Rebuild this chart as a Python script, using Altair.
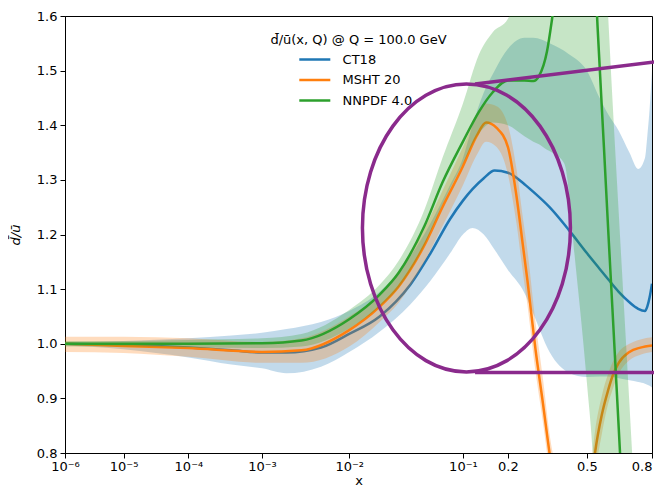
import math
import altair as alt
import pandas as pd

# ---------------- data ----------------
SERIES = ["CT18", "MSHT 20", "NNPDF 4.0"]
COLORS = ["#1f77b4", "#ff7f0e", "#2ca02c"]

CT18_x = [1e-6, 1e-5, 1e-4, 4e-4, 1e-3, 2e-3, 5e-3, 0.01, 0.02, 0.038, 0.056, 0.08, 0.1,
          0.117, 0.14, 0.165, 0.2, 0.25, 0.28, 0.34, 0.42, 0.5, 0.56, 0.6, 0.65, 0.7,
          0.74, 0.77, 0.78, 0.79, 0.8]
CT18_mid = [1.0, 0.998, 0.993, 0.988, 0.984, 0.984, 0.993, 1.018, 1.05, 1.108, 1.165, 1.228, 1.262,
            1.283, 1.303, 1.317, 1.313, 1.292, 1.278, 1.25, 1.208, 1.166, 1.137, 1.118, 1.095, 1.076,
            1.064, 1.06, 1.068, 1.085, 1.11]
CT18_lo = [0.997, 0.99, 0.975, 0.962, 0.955, 0.946, 0.958, 0.985, 1.022, 1.072, 1.115, 1.165, 1.2,
           1.212, 1.2, 1.172, 1.135, 1.093, 1.055, 0.985, 0.947, 0.939, 0.94, 0.94, 0.937, 0.933,
           0.93, 0.927, 0.925, 0.923, 0.92]
CT18_hi = [1.003, 1.005, 1.01, 1.015, 1.02, 1.027, 1.04, 1.06, 1.095, 1.16, 1.22, 1.29, 1.34,
           1.40, 1.46, 1.50, 1.54, 1.56, 1.56, 1.55, 1.53, 1.50, 1.45, 1.42, 1.39, 1.35,
           1.32, 1.34, 1.38, 1.43, 1.50]

MSHT_x = [1e-6, 1e-5, 1e-4, 1e-3, 3e-3, 0.01, 0.02, 0.03, 0.05, 0.07, 0.1, 0.125, 0.145,
          0.17, 0.2, 0.225, 0.245, 0.26, 0.2875, 0.315, 0.34, 0.38, 0.42, 0.46, 0.5, 0.52,
          0.538, 0.57, 0.6, 0.62, 0.65, 0.7, 0.75, 0.8]
MSHT_mid = [1.0, 0.996, 0.992, 0.985, 0.988, 1.025, 1.068, 1.105, 1.18, 1.25, 1.325, 1.38, 1.405,
            1.395, 1.36, 1.27, 1.18, 1.115, 0.99, 0.89, 0.80, 0.69, 0.60, 0.59, 0.67, 0.74,
            0.80, 0.87, 0.915, 0.94, 0.965, 0.985, 0.993, 0.997]
MSHT_lo = [0.985, 0.983, 0.976, 0.965, 0.965, 0.995, 1.04, 1.075, 1.15, 1.215, 1.29, 1.345, 1.37,
           1.36, 1.31, 1.22, 1.13, 1.07, 0.95, 0.855, 0.765, 0.64, 0.55, 0.54, 0.62, 0.70,
           0.76, 0.835, 0.89, 0.915, 0.945, 0.97, 0.98, 0.985]
MSHT_hi = [1.013, 1.013, 1.01, 1.003, 1.01, 1.05, 1.09, 1.13, 1.21, 1.28, 1.36, 1.415, 1.44,
           1.435, 1.40, 1.32, 1.23, 1.17, 1.04, 0.935, 0.835, 0.74, 0.65, 0.64, 0.72, 0.78,
           0.84, 0.905, 0.945, 0.965, 0.985, 1.0, 1.008, 1.012]

NNPDF_x = [1e-6, 1e-5, 1e-4, 1e-3, 3e-3, 0.01, 0.02, 0.03, 0.05, 0.07, 0.1, 0.13, 0.16,
           0.2, 0.25, 0.28, 0.3, 0.33, 0.35, 0.4, 0.45, 0.5, 0.53, 0.55, 0.58, 0.6,
           0.62, 0.65, 0.7, 0.75, 0.8]
NNPDF_mid = [1.0, 1.0, 1.0, 1.001, 1.006, 1.045, 1.09, 1.13, 1.215, 1.295, 1.37, 1.425, 1.46,
             1.482, 1.482, 1.481, 1.49, 1.535, 1.595, 1.78, 1.88, 1.9, 1.74, 1.58, 1.36, 1.21,
             1.066, 0.846, 0.47, 0.09, -0.3]
NNPDF_lo = [0.995, 0.995, 0.993, 0.992, 0.995, 1.028, 1.068, 1.103, 1.18, 1.255, 1.33, 1.385, 1.405,
            1.40, 1.38, 1.37, 1.365, 1.355, 1.35, 1.33, 1.14, 0.93, 0.78, 0.6, 0.4, 0.2,
            0.05, -0.1, -0.3, -0.5, -0.6]
NNPDF_hi = [1.005, 1.005, 1.007, 1.01, 1.018, 1.062, 1.108, 1.152, 1.245, 1.34, 1.44, 1.53, 1.57,
            1.595, 1.7, 1.8, 1.9, 2.0, 2.1, 2.2, 2.2, 2.2, 2.1, 1.97, 1.74, 1.6,
            1.45, 1.24, 0.89, 0.52, 0.13]

# x tick positions / labels
XTICK_X = [1e-6, 1e-5, 1e-4, 1e-3, 1e-2, 1e-1, 0.2, 0.5, 0.8]
XTICK_LABELS = ["10⁻⁶", "10⁻⁵", "10⁻⁴", "10⁻³", "10⁻²", "10⁻¹", "0.2", "0.5", "0.8"]
YTICKS = [0.8, 0.9, 1.0, 1.1, 1.2, 1.3, 1.4, 1.5, 1.6]

# annotation (purple ellipse + two lines), in data coordinates
ELLIPSE_X = [0.106]
ELLIPSE_Y = [1.212]
LINE_X = [0.122, 0.122]
LINE_X2 = [0.84, 0.84]
LINE_Y = [1.4755, 0.9474]
LINE_Y2 = [1.5176, 0.9474]

PURPLE = "#8a2a8c"
FONT = "DejaVu Sans"


def tr(v):
    return -math.sqrt(-math.log10(v))


rows = []
for name, xs, mid, lo, hi in [("CT18", CT18_x, CT18_mid, CT18_lo, CT18_hi),
                              ("MSHT 20", MSHT_x, MSHT_mid, MSHT_lo, MSHT_hi),
                              ("NNPDF 4.0", NNPDF_x, NNPDF_mid, NNPDF_lo, NNPDF_hi)]:
    for a, b, c, d in zip(xs, mid, lo, hi):
        rows.append({"pdf": name, "x": a, "mid": b, "lo": c, "hi": d})
df = pd.DataFrame(rows)

ell_df = pd.DataFrame({"x": ELLIPSE_X, "y": ELLIPSE_Y})
line_df = pd.DataFrame({"x": LINE_X, "x2": LINE_X2, "y": LINE_Y, "y2": LINE_Y2})

T_EXPR = "-sqrt(-log(datum.x)/LN10)"
T2_EXPR = "-sqrt(-log(datum.x2)/LN10)"

xdom = [tr(1e-6), tr(0.8)]
xticks_t = [tr(v) for v in XTICK_X]
label_expr = "".join(
    f"abs(datum.value - ({v:.6f})) < 0.001 ? '{lab}' : " for v, lab in zip(xticks_t, XTICK_LABELS)
) + "''"

xscale = alt.Scale(domain=xdom, nice=False, zero=False)
yscale = alt.Scale(domain=[0.8, 1.6], nice=False, zero=False)

xaxis = alt.Axis(values=xticks_t, labelExpr=label_expr, title="x", grid=False,
                 labelFlush=False, labelOverlap=False, tickSize=5, labelPadding=2,
                 labelAlign=alt.ExprRef("datum.value > -0.4 ? 'right' : 'center'"),
                 titleBaseline="alphabetic", titleY=31)
yaxis = alt.Axis(values=YTICKS, format=".1f", title="d̄/ū", grid=False,
                 tickSize=5, labelPadding=3, titlePadding=14, titleFontStyle="italic")

base = alt.Chart(df).transform_calculate(t=T_EXPR)
color_scale = alt.Scale(domain=SERIES, range=COLORS)

layers = []
for i, (name, col) in enumerate(zip(SERIES, COLORS)):
    band = base.transform_filter(alt.datum.pdf == name).mark_area(
        color=col, opacity=0.27, interpolate="monotone", clip=True
    ).encode(
        x=alt.X("t:Q", scale=xscale, axis=xaxis),
        y=alt.Y("lo:Q", scale=yscale, axis=yaxis),
        y2="hi:Q",
    )
    leg = None
    if i == 0:
        leg = alt.Legend(title=None, orient="none", legendX=242.3, legendY=36,
                         symbolType="M -2.5 0 L 2.5 0", symbolSize=154, symbolStrokeWidth=2.5,
                         labelOffset=20.3, rowPadding=5.5, padding=0,
                         labelFont=FONT, labelFontSize=13, labelColor="black")
    line = base.transform_filter(alt.datum.pdf == name).mark_line(
        strokeWidth=2.5, interpolate="monotone", clip=True
    ).encode(
        x=alt.X("t:Q", scale=xscale, axis=xaxis),
        y=alt.Y("mid:Q", scale=yscale, axis=yaxis),
        color=alt.Color("pdf:N", scale=color_scale, legend=leg),
    )
    layers += [band, line]

ELL_PATH = ("M 0.7222 0 C 0.7222 0.5523 0.3989 1 0 1 C -0.3989 1 -0.7222 0.5523 -0.7222 0 "
            "C -0.7222 -0.5523 -0.3989 -1 0 -1 C 0.3989 -1 0.7222 -0.5523 0.7222 0 Z")

ellipse = alt.Chart(ell_df).transform_calculate(t=T_EXPR).mark_point(
    shape=ELL_PATH, size=82944, filled=False, stroke=PURPLE, strokeWidth=3.5,
    opacity=1, clip=False
).encode(x=alt.X("t:Q", scale=xscale), y=alt.Y("y:Q", scale=yscale))

rules = alt.Chart(line_df).transform_calculate(t=T_EXPR, t2=T2_EXPR).mark_rule(
    color=PURPLE, strokeWidth=3.5, clip=False
).encode(x=alt.X("t:Q", scale=xscale), x2="t2:Q",
         y=alt.Y("y:Q", scale=yscale), y2="y2:Q")

chart = alt.layer(*layers, ellipse, rules).properties(
    width=587, height=437,
    background="white",
    autosize=alt.AutoSizeParams(type="none"),
    padding={"left": 57, "top": 8, "right": 2, "bottom": 34},
    title=alt.TitleParams(text="d̄/ū(x, Q) @ Q = 100.0 GeV", anchor="middle", orient="top",
                          offset=-37, font=FONT, fontSize=13, fontWeight="normal",
                          color="black", frame="group"),
).configure_view(
    stroke="black", strokeWidth=1
).configure_axis(
    labelFont=FONT, labelFontSize=13, labelColor="black",
    titleFont=FONT, titleFontSize=13, titleFontWeight="normal", titleColor="black",
    tickColor="black", domainColor="black", tickWidth=1, domainWidth=1,
)

chart.save("out.html", embed_options={"renderer": "svg", "actions": False})
